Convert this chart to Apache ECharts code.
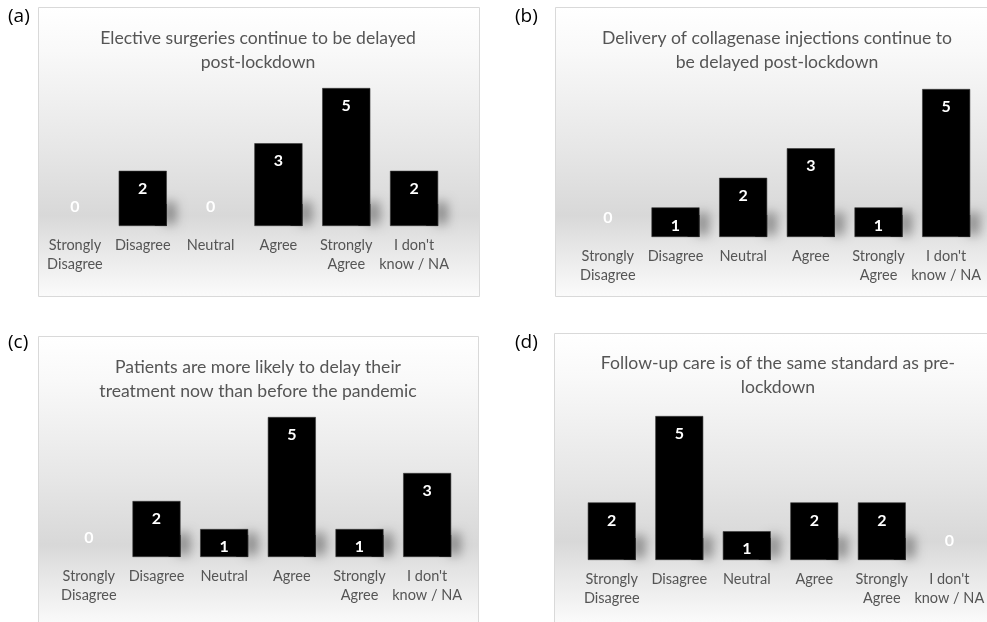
<!DOCTYPE html>
<html>
<head>
<meta charset="utf-8">
<script src="https://cdn.jsdelivr.net/npm/echarts@6/dist/echarts.min.js"></script>
<style>
  html, body { margin: 0; padding: 0; background: #ffffff; }
  #chart { width: 987px; height: 622px; }
</style>
</head>
<body>
<div id="chart"></div>
<script>
// Survey answer categories shared by all four panels
const categories = ['Strongly\nDisagree', 'Disagree', 'Neutral', 'Agree', 'Strongly\nAgree', "I don't\nknow / NA"];

// Number of respondents per answer
const valuesA = [0, 2, 0, 3, 5, 2];
const valuesB = [0, 1, 2, 3, 1, 5];
const valuesC = [0, 2, 1, 5, 1, 3];
const valuesD = [2, 5, 1, 2, 2, 0];

// Statement shown above each panel
const titleA = 'Elective surgeries continue to be delayed\npost-lockdown';
const titleB = 'Delivery of collagenase injections continue to\nbe delayed post-lockdown';
const titleC = 'Patients are more likely to delay their\ntreatment now than before the pandemic';
const titleD = 'Follow-up care is of the same standard as pre-\nlockdown';

const panelTags = ['(a)', '(b)', '(c)', '(d)'];

const FONT = 'Lato';
const GREY_TEXT = '#555555';

// Layout of each panel: frame box, plotting area and title anchor
const panels = [
  { values: valuesA, title: titleA, box: [38, 7, 441, 289],  grid: { left: 41,  width: 407, top: 88,  height: 138 }, titleX: 253, titleTop: 21 },
  { values: valuesB, title: titleB, box: [555, 7, 440, 289], grid: { left: 574, width: 406, top: 89,  height: 148 }, titleX: 772, titleTop: 21 },
  { values: valuesC, title: titleC, box: [38, 336, 440, 289], grid: { left: 55,  width: 406, top: 417, height: 140 }, titleX: 253, titleTop: 350 },
  { values: valuesD, title: titleD, box: [554, 333, 440, 289], grid: { left: 578, width: 408, top: 416, height: 144 }, titleX: 773, titleTop: 346 }
];
const tagPos = [[8, 7], [515, 7], [8, 333], [515, 333]];

const bgGradient = {
  type: 'linear', x: 0, y: 0, x2: 0, y2: 1,
  colorStops: [
    { offset: 0, color: '#ffffff' },
    { offset: 0.15, color: '#f9f9f9' },
    { offset: 0.5, color: '#e6e6e6' },
    { offset: 0.72, color: '#d8d8d8' },
    { offset: 0.8, color: '#e3e3e3' },
    { offset: 1, color: '#fbfbfb' }
  ]
};

const option = {
  animation: false,
  backgroundColor: '#ffffff',
  textStyle: { fontFamily: FONT },
  graphic: [],
  title: [],
  grid: [],
  xAxis: [],
  yAxis: [],
  series: []
};

panels.forEach((p, i) => {
  // panel frame with soft vertical gradient
  option.graphic.push({
    type: 'rect', z: -10, silent: true,
    shape: { x: p.box[0] + 0.5, y: p.box[1] + 0.5, width: p.box[2], height: p.box[3] },
    style: { fill: bgGradient, stroke: '#d9d9d9', lineWidth: 1 }
  });
  option.graphic.push({
    type: 'text', z: 10, silent: true,
    left: tagPos[i][0], top: tagPos[i][1],
    style: { text: panelTags[i], font: '19px "Open Sans"', fill: '#000000' }
  });

  option.title.push({
    text: p.title,
    left: p.titleX,
    top: p.titleTop,
    textAlign: 'center',
    textStyle: { fontFamily: FONT, fontSize: 17.6, fontWeight: 'normal', color: GREY_TEXT, lineHeight: 24 }
  });

  option.grid.push(Object.assign({}, p.grid));

  option.xAxis.push({
    type: 'category', gridIndex: i, data: categories,
    axisLine: { show: false }, axisTick: { show: false }, splitLine: { show: false },
    axisLabel: { interval: 0, color: GREY_TEXT, fontFamily: FONT, fontSize: 14.5, lineHeight: 19, margin: 10 }
  });
  option.yAxis.push({ type: 'value', gridIndex: i, min: 0, max: 5, show: false, splitLine: { show: false } });

  // soft cast shadow at the right foot of each bar
  option.series.push({
    type: 'custom', xAxisIndex: i, yAxisIndex: i, z: 1, silent: true,
    data: p.values.map((v, k) => [k, v]),
    renderItem: function (params, api) {
      const v = api.value(1);
      if (!v) return null;
      const base = api.coord([api.value(0), 0]);
      const top = api.coord([api.value(0), v]);
      const bw = api.size([1, 0])[0] * 0.71;
      const h = Math.min(22, base[1] - top[1]);
      return {
        type: 'rect',
        shape: { x: base[0] + bw / 2 - 12, y: base[1] - h, width: 12, height: h },
        style: { fill: '#000000', shadowBlur: 11, shadowColor: 'rgba(0,0,0,0.38)', shadowOffsetX: 9, shadowOffsetY: -2 }
      };
    }
  });

  option.series.push({
    type: 'bar', xAxisIndex: i, yAxisIndex: i, z: 2,
    barCategoryGap: '29%',
    data: p.values.map(v => v === 0
      ? { value: v, itemStyle: { borderWidth: 0 }, label: { position: 'insideBottom', distance: 11 } }
      : v),
    itemStyle: { color: '#000000', borderColor: '#3a3a3a', borderWidth: 0.6 },
    label: {
      show: true, position: 'insideTop', distance: 10,
      color: '#ffffff', fontFamily: FONT, fontWeight: 'bold', fontSize: 16
    }
  });
});

const chart = echarts.init(document.getElementById('chart'), null, { renderer: 'canvas' });
chart.setOption(option);
</script>
</body>
</html>
